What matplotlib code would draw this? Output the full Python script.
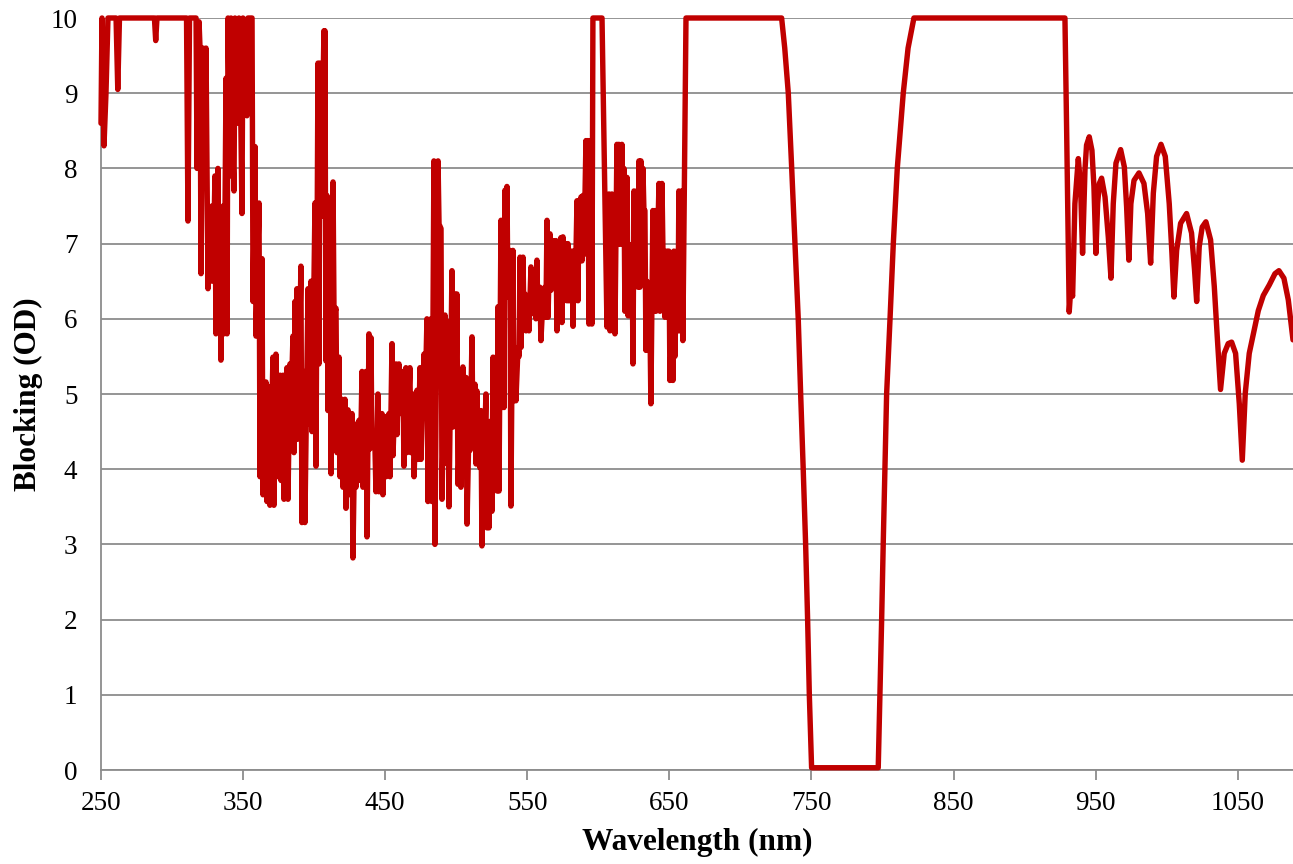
import matplotlib
matplotlib.use("Agg")
import matplotlib.pyplot as plt

plt.rcParams['font.family'] = ['Liberation Serif', 'DejaVu Serif']

# --- data (wavelength in nm, blocking in OD) ---

# deep UV, mostly saturated at OD 10
uv_wl = [250.0, 250.7, 252.1, 253.5, 254.9, 260.6, 261.8, 263.0, 287.6, 288.5,
         289.4, 310.2, 311.2, 312.3, 316.9, 317.6, 319.0, 319.7, 320.4, 321.8,
         323.2, 323.9, 325.3, 326.0, 326.7, 328.1, 328.8, 330.2, 330.9, 332.3,
         333.0, 333.7, 334.4, 335.9, 336.6, 338.0, 338.7, 339.4, 340.8, 341.5,
         342.2, 343.6, 344.3, 345.7, 346.4, 347.1, 348.5, 349.2, 349.9, 351.3,
         352.7, 353.4, 354.9]
uv_od = [8.6, 10, 8.3, 9.0, 10, 10, 9.05, 10, 10, 9.7,
         10, 10, 7.3, 10, 10, 8.0, 9.95, 9.6, 6.6, 9.6,
         9.0, 9.6, 6.4, 7.2, 6.5, 7.5, 6.5, 7.9, 5.8, 8.0,
         5.85, 7.2, 5.45, 7.5, 5.8, 9.2, 5.8, 10, 7.9, 10,
         8.6, 7.7, 10, 9.0, 8.6, 10, 8.5, 7.4, 10, 9.4,
         8.7, 10, 10]

# noisy visible region: one (wavelength, high, low) triple per ripple
vis_wl = [356.3, 358.4, 361.2, 363.3, 366.1, 368.2, 371.0, 373.1, 376.0, 378.1,
          380.9, 383.0, 385.1, 386.5, 387.9, 390.7, 392.8, 395.7, 397.8, 400.6,
          402.7, 404.1, 406.9, 407.6, 409.0, 411.2, 413.3, 415.4, 417.5, 419.6,
          421.7, 423.8, 426.6, 428.7, 431.6, 433.7, 436.5, 438.6, 440.0, 442.8,
          444.9, 447.7, 449.9, 452.7, 454.8, 457.6, 459.7, 462.5, 464.6, 467.4,
          469.6, 472.4, 474.5, 477.3, 479.4, 482.2, 484.3, 487.2, 489.3, 492.1,
          494.2, 497.0, 499.1, 500.5, 502.6, 504.7, 506.9, 509.0, 511.1, 513.2,
          514.6, 516.0, 517.4, 518.8, 520.9, 522.3, 524.4, 525.9, 528.0, 529.4,
          531.5, 532.9, 534.3, 535.7, 537.8, 539.9, 541.3, 543.5, 544.9, 547.0,
          548.4, 550.5, 552.6, 554.0, 555.4, 556.8, 558.9, 561.0, 562.4, 563.9,
          566.0, 568.1, 570.2, 571.6, 573.7, 575.1, 577.2, 578.6, 580.0, 581.5,
          582.9, 585.0, 586.4, 587.8, 589.2, 591.3, 592.7, 594.8]
vis_hi = [10, 8.29, 7.54, 6.8, 5.16, 5.1, 5.49, 5.53, 5.25, 5.25,
          5.35, 5.4, 5.77, 6.23, 6.4, 6.7, 5.3, 6.4, 6.5, 7.54,
          9.4, 9.4, 9.83, 9.83, 7.64, 6.23, 7.82, 6.14, 5.49, 4.93,
          4.93, 4.79, 4.74, 4.6, 4.65, 5.3, 5.3, 5.8, 5.75, 4.3,
          5.0, 4.74, 4.7, 4.74, 5.67, 5.4, 5.4, 5.3, 5.35, 5.35,
          5.0, 5.05, 5.35, 5.53, 6.0, 6.0, 8.1, 8.1, 7.2, 6.05,
          5.96, 6.64, 6.33, 6.33, 4.47, 5.36, 5.22, 4.6, 5.76, 5.13,
          5.04, 4.78, 4.78, 4.69, 5.0, 4.47, 4.64, 5.49, 5.49, 6.16,
          7.31, 7.31, 7.71, 7.76, 6.91, 6.91, 5.58, 5.62, 6.82, 6.82,
          6.33, 6.29, 6.69, 6.64, 6.3, 6.78, 6.42, 6.24, 6.42, 7.31,
          7.13, 7.04, 7.04, 6.56, 7.08, 7.09, 7.0, 7.0, 6.9, 6.9,
          6.9, 7.57, 7.57, 7.62, 7.64, 8.37, 8.37, 8.37]
vis_lo = [6.23, 5.77, 3.9, 3.66, 3.57, 3.52, 3.52, 3.9, 3.85, 3.6,
          3.6, 4.83, 4.22, 4.4, 4.4, 3.29, 3.29, 4.6, 4.5, 4.04,
          5.4, 7.36, 7.36, 5.44, 4.78, 3.94, 6.05, 4.22, 3.9, 3.76,
          3.48, 3.66, 2.82, 3.76, 3.85, 3.76, 3.1, 4.27, 4.3, 3.7,
          3.7, 3.66, 3.9, 3.9, 4.18, 4.46, 4.74, 4.04, 4.22, 4.22,
          3.9, 4.13, 4.13, 4.83, 3.57, 3.57, 3.0, 7.26, 3.6, 4.08,
          3.5, 4.56, 5.04, 3.8, 3.76, 4.2, 3.27, 4.25, 4.29, 4.07,
          4.07, 4.02, 2.98, 4.02, 3.22, 3.22, 3.44, 4.16, 3.71, 3.71,
          4.82, 4.82, 6.69, 6.29, 3.51, 4.91, 4.91, 5.5, 5.62, 5.93,
          5.84, 5.84, 6.07, 6.07, 6.0, 6.02, 5.71, 6.02, 6.02, 6.02,
          6.38, 6.42, 5.84, 6.33, 5.95, 6.24, 6.24, 6.24, 6.24, 5.9,
          6.24, 6.24, 6.77, 6.77, 6.86, 6.86, 5.93, 5.93]

# saturated peak near 600 nm
peak_wl = [596.2, 602.6, 606.1]
peak_od = [10, 10, 5.89]

# red region ripples
red_wl = [607.5, 609.6, 611.0, 613.1, 614.5, 616.6, 618.0, 620.2, 621.6, 623.7,
          625.1, 627.2, 628.6, 630.0, 631.4, 632.8, 634.2, 636.3, 638.4, 639.9,
          642.7, 644.8, 646.2, 648.3, 649.7, 651.8, 653.2, 655.3, 656.7, 658.8]
red_hi = [7.66, 7.66, 7.57, 8.32, 8.32, 8.32, 8.0, 7.88, 6.99, 6.99,
          7.7, 7.7, 8.1, 8.1, 8.0, 7.44, 6.5, 6.0, 7.44, 7.44,
          7.8, 7.8, 6.9, 6.9, 6.9, 6.0, 6.9, 6.9, 7.7, 7.7]
red_lo = [5.84, 5.84, 5.8, 6.99, 6.99, 6.99, 6.1, 6.04, 6.04, 5.4,
          6.9, 6.42, 6.42, 7.44, 7.44, 5.58, 5.58, 4.87, 6.1, 6.1,
          6.1, 6.9, 6.02, 6.02, 5.18, 5.18, 5.5, 5.84, 5.84, 5.71]

# passband around 775 nm
band_wl = [661.7, 729.0, 731.2, 733.7, 736.1, 738.4, 740.7, 742.4, 744.2, 745.9,
           747.3, 748.5, 750.1, 797.0, 798.2, 799.4, 800.5, 801.7, 802.9, 805.3,
           807.6, 810.4, 814.6, 818.0, 822.1, 928.4]
band_od = [10, 10, 9.6, 9, 8, 7, 6, 5, 4, 3,
           2, 1, 0.03, 0.03, 1, 2, 3, 4, 5, 6,
           7, 8, 9, 9.6, 10, 10]

# near infrared lobes
nir_wl = [929.6, 931.4, 932.5, 933.8, 935.4, 937.8, 939.4, 940.8, 942.5, 943.6,
          945.5, 947.4, 948.8, 950.2, 951.4, 952.6, 954.2, 956.6, 958.9, 960.8,
          962.4, 964.3, 967.6, 970.2, 971.8, 973.4, 974.8, 977.0, 980.5, 984.0,
          986.6, 988.7, 990.6, 992.9, 996.0, 999.0, 1001.8, 1003.7, 1005.1, 1007.0,
          1009.8, 1014.0, 1017.5, 1019.6, 1021.1, 1022.9, 1025.0, 1027.6, 1030.9, 1033.5,
          1035.6, 1037.9, 1040.5, 1043.3, 1045.7, 1048.5, 1051.1, 1053.2, 1055.3, 1058.1,
          1061.0, 1064.5, 1068.0, 1072.2, 1076.2, 1079.0, 1082.5, 1085.6, 1088.9]
nir_od = [8.5, 6.09, 6.4, 6.3, 7.53, 8.13, 7.76, 6.87, 7.98, 8.31,
          8.42, 8.24, 7.76, 6.87, 7.53, 7.8, 7.87, 7.62, 7.09, 6.54,
          7.53, 8.07, 8.25, 8.02, 7.49, 6.78, 7.53, 7.84, 7.94, 7.8,
          7.4, 6.74, 7.67, 8.16, 8.32, 8.16, 7.53, 6.87, 6.29, 6.91,
          7.27, 7.4, 7.14, 6.65, 6.23, 6.96, 7.22, 7.29, 7.05, 6.43,
          5.76, 5.06, 5.54, 5.67, 5.69, 5.54, 4.87, 4.12, 5.01, 5.54,
          5.8, 6.11, 6.31, 6.45, 6.6, 6.64, 6.54, 6.25, 5.72]

x_ticks = [250, 350, 450, 550, 650, 750, 850, 950, 1050]
y_ticks = list(range(0, 11))


def ripple(wls, his, los):
    # each ripple goes up to its high, then straight back down to its low
    xs, ys = [], []
    for w, h, l in zip(wls, his, los):
        xs += [w, w + 0.7]
        ys += [h, l]
    return xs, ys


vx, vy = ripple(vis_wl, vis_hi, vis_lo)
rx, ry = ripple(red_wl, red_hi, red_lo)
wl = uv_wl + vx + peak_wl + rx + band_wl + nir_wl
od = uv_od + vy + peak_od + ry + band_od + nir_od

grey = '#8c8c8c'
fig = plt.figure(figsize=(12.93, 8.64), dpi=100)
ax = fig.add_axes([101 / 1293, 94 / 864, 1 - 101 / 1293, 752 / 864])

ax.plot(wl, od, color='#c00000', lw=3.9, solid_joinstyle='round',
        solid_capstyle='round', clip_on=False, zorder=3)

ax.set_xlim(250, 1088.9)
ax.set_ylim(0, 10)
ax.set_xticks(x_ticks)
ax.set_yticks(y_ticks)
ax.yaxis.grid(True, color=grey, lw=1.3)
ax.set_axisbelow(True)

for side in ['top', 'right']:
    ax.spines[side].set_visible(False)
for side in ['left', 'bottom']:
    ax.spines[side].set_color(grey)
    ax.spines[side].set_linewidth(1.3)

ax.tick_params(axis='x', direction='out', length=7, width=1.3, color=grey,
               labelsize=19.5, pad=8)
ax.tick_params(axis='y', length=0, labelsize=19.5, pad=17)

ax.set_xlabel('Wavelength (nm)', fontsize=22.5, fontweight='bold', labelpad=9)
ax.set_ylabel('Blocking (OD)', fontsize=22.5, fontweight='bold', labelpad=5)

fig.savefig('out.png', dpi=100)
